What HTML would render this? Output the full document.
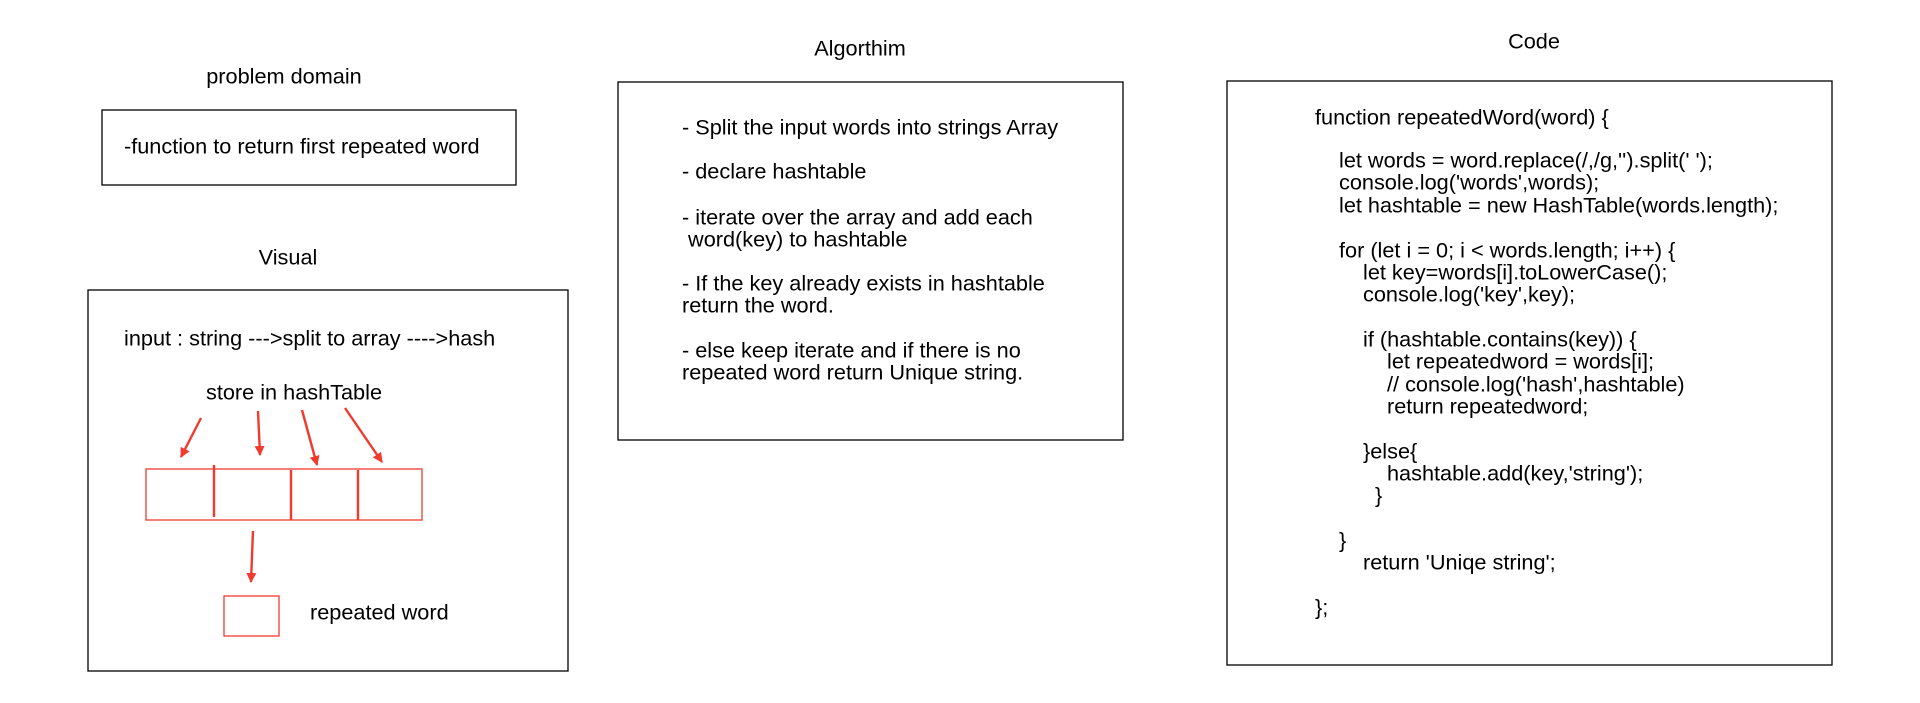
<!DOCTYPE html>
<html><head><meta charset="utf-8"><style>
html,body{margin:0;padding:0;background:#fff;}
svg{display:block;}
text{font-family:"Liberation Sans",Arial,sans-serif;font-size:21.7px;fill:#000;dominant-baseline:middle;}
</style></head><body>
<svg width="1920" height="703" viewBox="0 0 1920 703" xmlns="http://www.w3.org/2000/svg">
<defs>
<marker id="ah" markerWidth="10" markerHeight="10" refX="9" refY="5" orient="auto" markerUnits="userSpaceOnUse">
<path d="M0,0 L10,5 L0,10 z" fill="#f03a2e"/>
</marker>
</defs>
<g fill="none" stroke="#000" stroke-width="1.3">
<rect x="102" y="110" width="414" height="75"/>
<rect x="88" y="290" width="480" height="381"/>
<rect x="618" y="82" width="505" height="358"/>
<rect x="1227" y="81" width="605" height="584"/>
</g>
<text x="284" y="78" text-anchor="middle">problem domain</text>
<text x="124" y="148">-function to return first repeated word</text>
<text x="288" y="259" text-anchor="middle">Visual</text>
<text x="124" y="340">input : string ---&gt;split to array ----&gt;hash</text>
<text x="294" y="394" text-anchor="middle">store in hashTable</text>
<g stroke="#f03a2e" stroke-width="2.4" fill="none" marker-end="url(#ah)">
<line x1="201" y1="418" x2="181" y2="457"/>
<line x1="258" y1="411" x2="260" y2="455"/>
<line x1="302" y1="410" x2="317" y2="465"/>
<line x1="345" y1="408" x2="382" y2="462"/>
<line x1="253" y1="531" x2="251" y2="582"/>
</g>
<rect x="146" y="469" width="276" height="51" fill="none" stroke="#f03a2e" stroke-width="1.3"/>
<g stroke="#f03a2e" stroke-width="2.4">
<line x1="214" y1="465" x2="214" y2="517"/>
<line x1="291" y1="470" x2="291" y2="520"/>
<line x1="358" y1="470" x2="358" y2="520"/>
</g>
<rect x="224" y="596" width="55" height="40" fill="none" stroke="#f03a2e" stroke-width="1.3"/>
<text x="310" y="614">repeated word</text>
<text x="860" y="50" text-anchor="middle">Algorthim</text>
<text x="682" y="129">- Split the input words into strings Array</text>
<text x="682" y="173">- declare hashtable</text>
<text x="682" y="219">- iterate over the array and add each</text>
<text x="682" y="241"> &#160;word(key) to hashtable</text>
<text x="682" y="285">- If the key already exists in hashtable</text>
<text x="682" y="307">return the word.</text>
<text x="682" y="352">- else keep iterate and if there is no</text>
<text x="682" y="374">repeated word return Unique string.</text>
<text x="1534" y="43" text-anchor="middle">Code</text>
<text x="1315" y="119">function repeatedWord(word) {</text>
<text x="1339" y="162">let words = word.replace(/,/g,'').split(' ');</text>
<text x="1339" y="184">console.log('words',words);</text>
<text x="1339" y="207">let hashtable = new HashTable(words.length);</text>
<text x="1339" y="252">for (let i = 0; i &lt; words.length; i++) {</text>
<text x="1363" y="274">let key=words[i].toLowerCase();</text>
<text x="1363" y="296">console.log('key',key);</text>
<text x="1363" y="341">if (hashtable.contains(key)) {</text>
<text x="1387" y="363">let repeatedword = words[i];</text>
<text x="1387" y="386">// console.log('hash',hashtable)</text>
<text x="1387" y="408">return repeatedword;</text>
<text x="1363" y="453">}else{</text>
<text x="1387" y="475">hashtable.add(key,'string');</text>
<text x="1375" y="497">}</text>
<text x="1339" y="542">}</text>
<text x="1363" y="564">return 'Uniqe string';</text>
<text x="1315" y="609">};</text>
</svg>
</body></html>
